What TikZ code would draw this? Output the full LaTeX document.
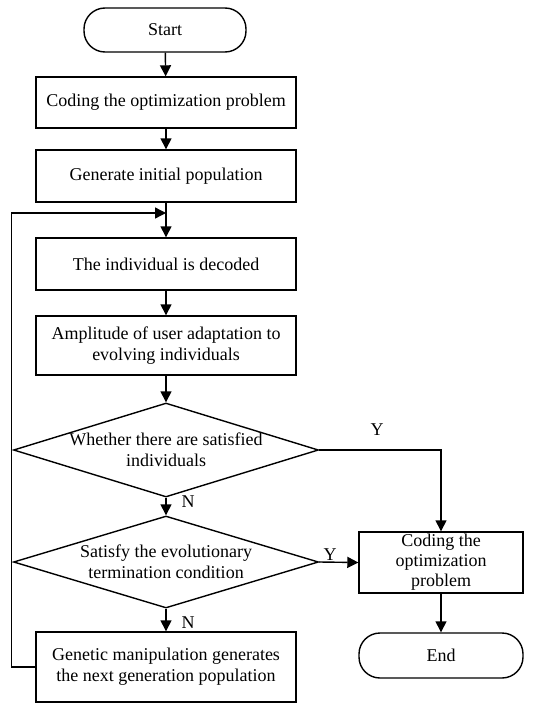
\documentclass[tikz,border=0pt]{standalone}
\usepackage{fontspec}
\setmainfont{Liberation Serif}
\usetikzlibrary{shapes.geometric,arrows.meta}

\begin{document}
\begin{tikzpicture}[x=1pt,y=-1pt,
    >={Triangle[length=11pt,width=11pt]},
    every node/.style={font=\fontsize{18}{21}\selectfont},
    process/.style={draw,line width=1.4pt,minimum width=260pt,align=center,inner sep=0pt},
    terminal/.style={draw,line width=1.4pt,rounded corners=21pt,minimum width=162pt,minimum height=44pt},
    decision/.style={draw,diamond,line width=1.4pt,minimum width=305pt,minimum height=94pt,aspect=3.2,inner sep=0pt},
    tag/.style={inner sep=1pt}]
    \useasboundingbox (0,0) rectangle (537,704);

    \node[terminal] (start) at (165,30) {Start};
    \node[process,minimum height=51pt] (code) at (166,102.5) {Coding the optimization problem};
    \node[process,minimum height=52pt] (init) at (166,176) {Generate initial population};
    \node[process,minimum height=52pt] (decode) at (166,264) {The individual is decoded};
    \node[process,minimum height=59pt] (fit) at (166,345.5) {Amplitude of user adaptation to\\evolving individuals};

    \node[decision] (sat) at (166,450) {};
    \node[align=center] (sattext) at (166,450) {Whether there are satisfied\\individuals};
    \node[decision,minimum height=92pt] (term) at (166,562) {};
    \node[align=center] (termtext) at (166,562) {Satisfy the evolutionary\\termination condition};

    \node[process,minimum height=70pt] (gen) at (166,667) {Genetic manipulation generates\\the next generation population};
    \node[process,minimum width=164pt,minimum height=61pt,font=\fontsize{18}{20}\selectfont] (out) at (441,562.5) {Coding the\\optimization\\problem};
    \node[terminal,minimum width=164pt,minimum height=45pt] (end) at (441,655.5) {End};

    \coordinate (merge) at (166,213);

    \draw[line width=1.4pt,->] (start) -- (code);
    \draw[line width=1.4pt,->] (code) -- (init);
    \draw[line width=1.4pt,->] (init) -- (decode);
    \draw[line width=1.4pt,->] (decode) -- (fit);
    \draw[line width=1.4pt,->] (fit) -- (sat);
    \draw[line width=1.4pt,->] (sat.south) -- (term.north);
    \draw[line width=1.4pt,->] (term.south) -- (gen);
    \draw[line width=1.4pt,->] (sat.east) -| (out.north);
    \draw[line width=1.4pt,->] (term.east) -- (out.west);
    \draw[line width=1.4pt,->] (out) -- (end);
    \draw[line width=1.4pt,->] (gen.west) -- ++(-24,0) |- (merge);

    \node[tag] (y1) at (377,430) {Y};
    \node[tag] (y2) at (330,555) {Y};
    \node[tag] (n1) at (188,502) {N};
    \node[tag] (n2) at (188,623) {N};

\end{tikzpicture}
\end{document}
